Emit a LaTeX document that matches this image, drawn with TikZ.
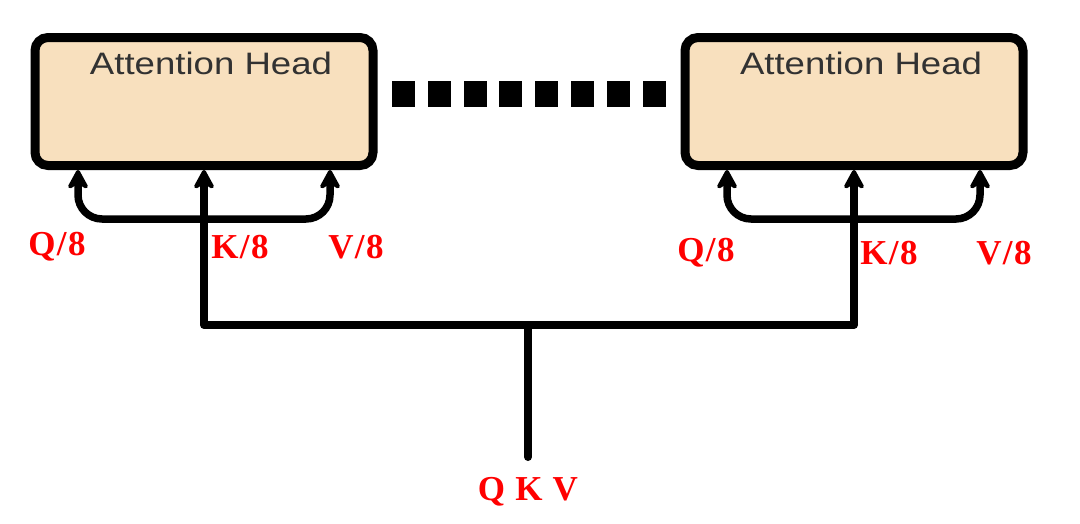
\documentclass[tikz,border=0pt]{standalone}
\usepackage{fontspec}
\setmainfont{Liberation Serif}
\newfontfamily\headfont[FakeStretch=1.18]{Liberation Sans}
\newfontfamily\labfont[LetterSpace=4]{Liberation Serif}
\usetikzlibrary{arrows.meta}
\definecolor{boxfill}{RGB}{248,224,190}
\definecolor{headgray}{RGB}{50,50,50}
\definecolor{labred}{RGB}{255,0,0}
\tikzset{
  headbox/.style={draw=black, fill=boxfill, line width=9pt, rounded corners=13pt,
    minimum width=338pt, minimum height=128pt, inner sep=0pt},
  headtext/.style={text=headgray, font=\headfont\fontsize{31}{32}\selectfont, inner sep=0pt},
  lab/.style={text=labred, font=\labfont\bfseries\fontsize{35}{36}\selectfont, inner sep=0pt},
  conn/.style={line width=8pt, line cap=round},
  arr/.style={line width=7.5pt, -{Stealth[length=24pt,width=26pt,inset=8pt,round]}},
  darr/.style={line width=7.5pt, {Stealth[length=24pt,width=26pt,inset=8pt,round]}-{Stealth[length=24pt,width=26pt,inset=8pt,round]}, rounded corners=24pt},
  dotsq/.style={fill=black, minimum width=23pt, minimum height=26pt, inner sep=0pt}
}
\begin{document}
\begin{tikzpicture}[x=1pt,y=-1pt]
\useasboundingbox (0,0) rectangle (1080,523);
% boxes
\node[headbox] (L) at (204,101.5) {};
\node[headbox] (R) at (854,101.5) {};
\node[headtext, anchor=base] (Lt) at (211,74) {Attention Head};
\node[headtext, anchor=base] (Rt) at (861,74) {Attention Head};
% dots
\foreach \i in {0,...,7}{
  \node[dotsq] (d\i) at ({403.5+35.8*\i},94) {};
}
% coordinates on the boxes
\coordinate (LQ) at (78,170);
\coordinate (LV) at (330,170);
\coordinate (RQ) at (727,170);
\coordinate (RV) at (980,170);
\coordinate (LJ) at (204,325);
\coordinate (RJ) at (854,325);
\coordinate (MJ) at (528,325);
\coordinate (QE) at (528,457);
% split arrows
\draw[darr] (LQ) -- (78,219) -- (330,219) -- (LV);
\draw[darr] (RQ) -- (727,219) -- (980,219) -- (RV);
% trunk
\draw[conn] (LJ) -- (RJ);
\draw[conn] (MJ) -- (QE);
\draw[arr] (LJ) -- (L.south);
\draw[arr] (RJ) -- (R.south);
% labels
\node[lab] (lq) at (57,247) {Q/8};
\node[lab] (lk) at (240,247) {K/8};
\node[lab] (lv) at (356,247) {V/8};
\node[lab] (rq) at (706,253) {Q/8};
\node[lab] (rk) at (889,253) {K/8};
\node[lab] (rv) at (1004,253) {V/8};
\node[lab] (qkv) at (528,492) {Q K V};
\end{tikzpicture}
\end{document}
